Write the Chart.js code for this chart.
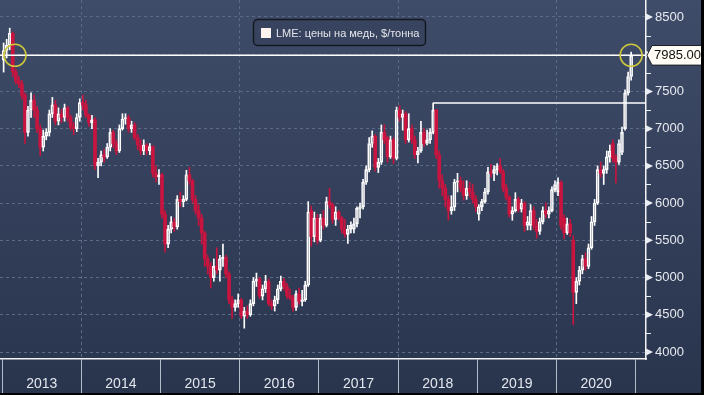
<!DOCTYPE html>
<html>
<head>
<meta charset="utf-8">
<script src="https://cdn.jsdelivr.net/npm/chart.js@4/dist/chart.umd.min.js"></script>
<style>
  html, body { margin: 0; padding: 0; background: #000; }
  canvas { display: block; }
</style>
</head>
<body>
<canvas id="chart" width="701" height="393"></canvas>
<script>
const seriesLabel = 'LME: цены на медь, $/тонна';
const firstYear = 2013;
const perYear = 26; // two-week candles

// 2013 .. 2020, one row per year
const opens = [
  7920,8050,8120,8280,7760,7640,7600,7450,6950,7250,7380,7250,7000,6750,6900,6950,7200,7320,7100,7200,7150,7280,7150,7020,7000,7150,
  7350,7320,7180,7080,7120,6500,6550,6650,6620,6750,6950,6800,6700,7000,7130,7150,7000,7050,6880,6780,6700,6780,6700,6760,6400,6350,
  6380,5850,5450,5650,5750,5680,6050,6020,6050,6380,6300,6050,5900,5800,5600,5250,5150,5000,5150,5100,5250,5270,5050,4700,4600,4650,
  4700,4480,4550,4500,4650,4950,4980,4750,4850,4950,4650,4620,4700,4850,4950,4880,4760,4730,4600,4780,4680,4700,4900,5900,5550,5800,
  5500,5800,5700,6020,5980,5780,5880,5800,5650,5580,5650,5650,5720,5930,5950,6280,6450,6800,6900,6480,6550,6950,6880,6620,6850,6600,
  7250,7150,7200,6850,7000,6850,6650,6700,6950,6800,6850,6950,7250,6650,6300,6200,6050,5900,5950,6280,6300,6200,6100,6200,6150,6050,
  5850,5950,6020,6150,6420,6400,6450,6500,6420,6200,6080,5850,5900,6050,5920,6000,5700,5700,5900,5700,5620,5750,5900,5850,5900,6180,
  6150,6280,5800,5600,5720,5500,4800,4950,5100,5250,5150,5400,5750,6000,6450,6400,6450,6620,6800,6600,6550,6680,7000,7480,7700
];
const highs = [
  8150,8200,8350,8300,7800,7700,7650,7480,7300,7480,7450,7300,7050,6980,7000,7250,7420,7380,7280,7260,7330,7300,7180,7080,7200,7400,
  7450,7380,7200,7180,7150,6600,6700,6720,6800,7000,6980,6850,7050,7200,7200,7180,7100,7080,6920,6850,6850,6800,6800,6770,6500,6450,
  6400,5900,5700,5820,5800,6100,6150,6100,6440,6480,6320,6100,5980,5850,5620,5300,5200,5250,5400,5300,5450,5300,5080,4750,4700,4780,
  4720,4600,4620,4700,5000,5060,5000,4900,5030,4980,4700,4750,4900,5020,4990,4920,4850,4760,4820,4860,4830,4950,6020,5960,5880,5850,
  5850,5900,6080,6200,6000,5950,5900,5820,5780,5700,5750,5800,5950,6000,6320,6500,6880,6970,6920,6600,7050,7050,6900,6900,6880,7290,
  7310,7250,7230,7200,7050,6900,6750,7100,7000,6980,7000,7344,7260,6700,6380,6250,6100,6100,6320,6400,6350,6300,6300,6280,6250,6100,
  5980,6050,6200,6480,6520,6500,6530,6600,6450,6250,6100,5950,6140,6080,6050,6020,5820,5980,5950,5780,5800,5950,6000,5950,6220,6300,
  6340,6300,5840,5800,5780,5560,5000,5150,5300,5330,5450,5820,6050,6500,6550,6500,6700,6780,6850,6650,6850,7020,7520,7760,8030
];
const lows = [
  7760,7950,8060,7700,7600,7550,7400,6800,6900,7150,7150,6950,6640,6700,6850,6900,7150,7050,7050,7080,7100,7100,6980,6920,6960,7100,
  7250,7150,7030,7000,6450,6340,6500,6550,6600,6700,6750,6650,6680,6980,7060,6950,6950,6850,6720,6650,6650,6650,6650,6350,6280,6250,
  5800,5340,5400,5600,5620,5650,5950,5950,6030,6250,6000,5850,5700,5450,5150,5050,4860,4950,5050,4950,5150,5000,4650,4450,4550,4600,
  4450,4320,4450,4480,4620,4880,4720,4700,4800,4620,4570,4550,4650,4820,4830,4720,4700,4550,4560,4640,4620,4680,4880,5420,5480,5450,
  5480,5650,5680,5930,5730,5700,5770,5600,5540,5460,5600,5600,5680,5800,5920,6250,6420,6750,6430,6410,6520,6800,6550,6600,6530,6580,
  7100,6980,6800,6820,6800,6600,6540,6680,6760,6780,6800,6930,6600,6200,6100,5950,5770,5850,5900,6150,6150,6040,6050,6080,6000,5880,
  5770,5900,6000,6120,6350,6300,6380,6400,6150,6040,5810,5770,5880,5880,5880,5620,5640,5640,5650,5530,5580,5720,5800,5800,5880,6150,
  6100,5650,5520,5580,5550,4370,4650,4900,5050,5100,5120,5380,5700,5980,6350,6250,6400,6550,6550,6270,6520,6650,6980,7450,7650
];
const closes = [
  8050,8120,8280,7760,7640,7600,7450,6950,7250,7380,7250,7000,6750,6900,6950,7200,7320,7100,7200,7150,7280,7150,7020,7000,7150,7350,
  7320,7180,7080,7120,6500,6550,6650,6620,6750,6950,6800,6700,7000,7130,7150,7000,7050,6880,6780,6700,6780,6700,6760,6400,6350,6380,
  5850,5450,5650,5750,5680,6050,6020,6050,6380,6300,6050,5900,5800,5600,5250,5150,5000,5150,5100,5250,5270,5050,4700,4600,4650,4700,
  4480,4550,4500,4650,4950,4980,4750,4850,4950,4650,4620,4700,4850,4950,4880,4760,4730,4600,4780,4680,4700,4900,5880,5550,5800,5500,
  5800,5700,6020,5980,5780,5880,5800,5650,5580,5650,5700,5720,5930,5950,6280,6450,6800,6900,6480,6550,6950,6850,6620,6850,6600,7250,
  7150,7200,6850,7000,6850,6650,6700,6950,6800,6850,6950,7250,6650,6300,6200,6050,5900,5950,6280,6300,6200,6100,6200,6150,6050,5950,
  5950,6020,6150,6420,6400,6450,6500,6420,6200,6080,5850,5900,6050,5920,6000,5700,5750,5900,5700,5620,5750,5900,5850,5900,6180,6250,
  6280,5700,5600,5720,5600,4800,4950,5100,5250,5150,5400,5750,6000,6450,6400,6450,6620,6700,6600,6550,6800,6950,7480,7700,7985
];

const years = [2013, 2014, 2015, 2016, 2017, 2018, 2019, 2020, 2021];
const yTickValues = [4000,4250,4500,4750,5000,5250,5500,5750,6000,6250,6500,6750,7000,7250,7500,7750,8000,8250,8500];
const markerDates = [2013.163]; // earlier time the price stood at the current level
const highlightYear = 2018;      // year whose high is carried to the right

const xMin = 2012.9735, xMax = 2021.13;
const yMin = 3906, yMax = 8728;

const WHITE = '#ffffff', RED = '#c8143f', CLEAR = 'rgba(0,0,0,0)';
const GRID = '#5a6b88';
const FONT = "'Liberation Sans', Arial, sans-serif";

const xs = closes.map((_, i) => firstYear + (i + 0.5) / perYear);
const up = closes.map((c, i) => c >= opens[i]);
const lastIdx = closes.length - 1;
const lastClose = closes[lastIdx];

const hyStart = (highlightYear - firstYear) * perYear;
const hySlice = highs.slice(hyStart, hyStart + perYear);
const hiIdx = hyStart + hySlice.indexOf(Math.max(...hySlice));

const isWhole = v => Math.abs(v - Math.round(v)) < 1e-6;
const xTickValues = [];
years.forEach(y => { xTickValues.push(y); if (y < years[years.length - 1]) xTickValues.push(y + 0.5); });

const decor = {
  id: 'decor',
  beforeDraw(chart) {
    const { ctx, width, height } = chart;
    const g = ctx.createLinearGradient(0, 0, 0, height);
    g.addColorStop(0, '#3f4c69');
    g.addColorStop(1, '#29344d');
    ctx.save();
    ctx.fillStyle = g;
    ctx.fillRect(0, 0, width, height);
    ctx.restore();
  },
  afterDraw(chart) {
    const { ctx, chartArea, width } = chart;
    const y = chart.scales.y;
    const right = chartArea.right;
    ctx.save();
    ctx.fillStyle = '#e9ecf2';
    ctx.strokeStyle = '#e9ecf2';
    ctx.lineWidth = 1;
    y.ticks.forEach(t => {
      const py = y.getPixelForValue(t.value);
      if (t.value % 500 === 0) {
        ctx.beginPath();
        ctx.moveTo(right, py - 3.5);
        ctx.lineTo(right + 7, py);
        ctx.lineTo(right, py + 3.5);
        ctx.closePath();
        ctx.fill();
      } else {
        const p = Math.round(py) + 0.5;
        ctx.beginPath();
        ctx.moveTo(right, p);
        ctx.lineTo(right + 5, p);
        ctx.stroke();
      }
    });

    // last price tag
    const py = y.getPixelForValue(lastClose);
    const h = 9.8;
    ctx.beginPath();
    ctx.moveTo(right + 1, py);
    ctx.lineTo(right + 6, py - h);
    ctx.lineTo(width + 2, py - h);
    ctx.lineTo(width + 2, py + h);
    ctx.lineTo(right + 6, py + h);
    ctx.closePath();
    ctx.fillStyle = '#fffdf5';
    ctx.fill();
    ctx.strokeStyle = '#1b1f27';
    ctx.stroke();
    ctx.fillStyle = '#111111';
    ctx.font = '13px ' + FONT;
    ctx.textBaseline = 'middle';
    ctx.textAlign = 'left';
    ctx.fillText(lastClose.toFixed(2), right + 8, py + 0.5);

    // legend box
    const label = chart.data.datasets.find(d => d.label).label;
    ctx.beginPath();
    ctx.roundRect(253.5, 19.5, 172, 26, 4);
    ctx.fillStyle = '#37435f';
    ctx.fill();
    ctx.strokeStyle = '#141821';
    ctx.lineWidth = 1.5;
    ctx.stroke();
    ctx.fillStyle = '#fff3ef';
    ctx.fillRect(261, 28, 10, 10);
    ctx.fillStyle = '#e4e5ea';
    ctx.font = '11px ' + FONT;
    ctx.fillText(label, 276, 33.5);
    ctx.restore();
  }
};

new Chart(document.getElementById('chart'), {
  type: 'bar',
  data: {
    datasets: [
      {
        type: 'line',
        data: markerDates.concat([xs[lastIdx]]).map(x => ({ x, y: lastClose })),
        showLine: false,
        pointRadius: 11,
        pointBorderWidth: 1.5,
        pointBorderColor: '#cfc83c',
        pointBackgroundColor: CLEAR,
        order: 0
      },
      {
        type: 'line',
        data: [{ x: xMin, y: lastClose }, { x: xMax, y: lastClose }],
        borderColor: WHITE,
        borderWidth: 1.5,
        pointRadius: 0,
        order: 1
      },
      {
        type: 'line',
        data: [{ x: xs[hiIdx], y: highs[hiIdx] }, { x: xMax, y: highs[hiIdx] }],
        borderColor: WHITE,
        borderWidth: 1.5,
        pointRadius: 0,
        order: 1
      },
      {
        label: seriesLabel,
        data: xs.map((x, i) => ({ x, y: [opens[i], closes[i]] })),
        barThickness: 3,
        grouped: false,
        borderSkipped: false,
        backgroundColor: xs.map((_, i) => up[i] ? CLEAR : RED),
        borderColor: xs.map((_, i) => up[i] ? WHITE : RED),
        borderWidth: xs.map((_, i) => up[i] ? 1 : 0),
        order: 2
      },
      {
        data: xs.map((x, i) => ({ x, y: [Math.max(opens[i], closes[i]), highs[i]] })),
        barThickness: 1,
        grouped: false,
        backgroundColor: xs.map((_, i) => up[i] ? WHITE : RED),
        order: 3
      },
      {
        data: xs.map((x, i) => ({ x, y: [lows[i], Math.min(opens[i], closes[i])] })),
        barThickness: 1,
        grouped: false,
        backgroundColor: xs.map((_, i) => up[i] ? WHITE : RED),
        order: 3
      }
    ]
  },
  options: {
    responsive: false,
    animation: false,
    events: [],
    layout: { padding: 0, autoPadding: false },
    plugins: { legend: { display: false }, tooltip: { enabled: false } },
    scales: {
      x: {
        type: 'linear',
        min: xMin,
        max: xMax,
        offset: false,
        afterBuildTicks: s => { s.ticks = xTickValues.map(v => ({ value: v })); },
        afterFit: s => { s.height = 34; s.paddingLeft = 0; s.paddingRight = 0; },
        grid: {
          offset: false,
          tickLength: 34,
          color: c => (c.tick && isWhole(c.tick.value) && Math.round(c.tick.value) % 2 === 0) ? GRID : CLEAR,
          tickColor: c => (c.tick && isWhole(c.tick.value)) ? '#b4bccb' : CLEAR
        },
        border: { color: '#f2f2f2', width: 1.5, dash: [3, 3] },
        ticks: {
          autoSkip: false,
          maxRotation: 0,
          padding: -17,
          color: '#e3e7ee',
          font: { family: FONT, size: 14 },
          callback: v => isWhole(v) ? '' : String(Math.floor(v))
        }
      },
      y: {
        position: 'right',
        min: yMin,
        max: yMax,
        afterBuildTicks: s => { s.ticks = yTickValues.map(v => ({ value: v })); },
        afterFit: s => { s.width = 55; s.paddingTop = 0; s.paddingBottom = 0; },
        grid: {
          drawTicks: false,
          color: c => (c.tick && c.tick.value % 500 === 0) ? GRID : CLEAR
        },
        border: { color: '#f2f2f2', width: 1.5, dash: [3, 3] },
        ticks: {
          autoSkip: false,
          padding: 9,
          color: '#e6e9ef',
          font: { family: FONT, size: 13 },
          callback: v => (v % 500 === 0 && v !== 8000) ? String(v) : ''
        }
      }
    }
  },
  plugins: [decor]
});
</script>
</body>
</html>
